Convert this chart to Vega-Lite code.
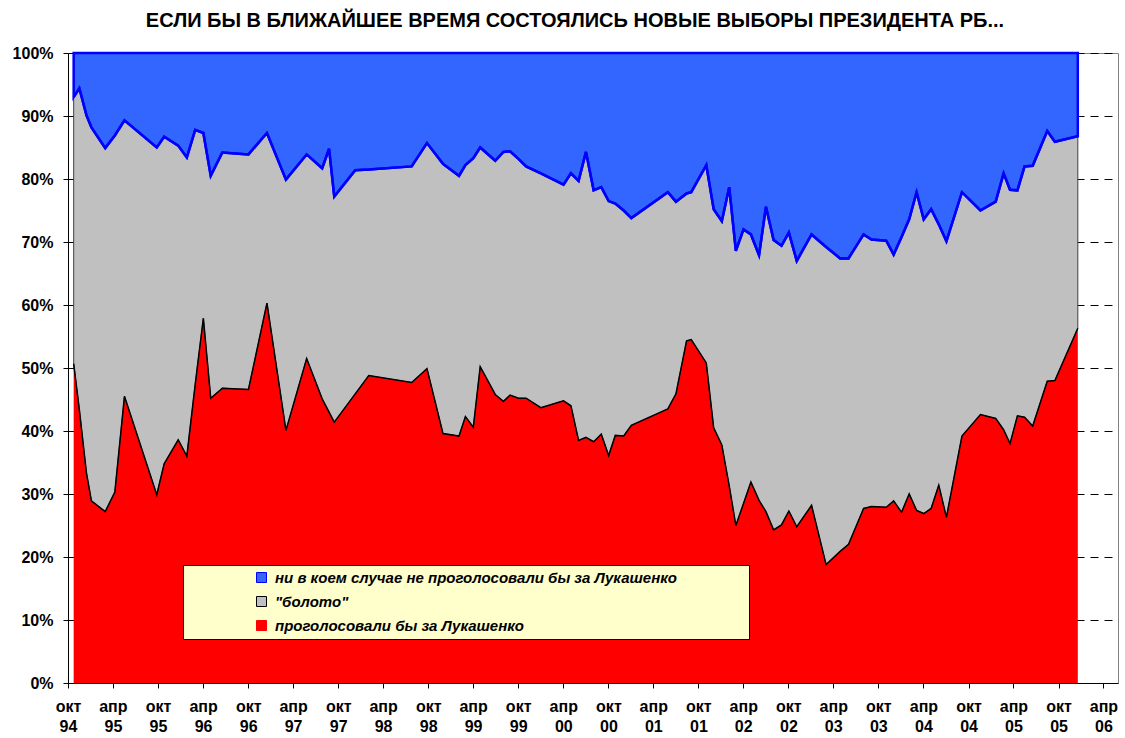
{
  "$schema": "https://vega.github.io/schema/vega-lite/v6.json",
  "width": 1050,
  "height": 630,
  "autosize": "none",
  "padding": {"left": 68, "top": 53, "right": 7, "bottom": 55},
  "background": "white",
  "title": {
    "text": "ЕСЛИ БЫ В БЛИЖАЙШЕЕ ВРЕМЯ СОСТОЯЛИСЬ НОВЫЕ ВЫБОРЫ ПРЕЗИДЕНТА РБ...",
    "font": "Liberation Sans",
    "fontSize": 20,
    "fontWeight": "bold",
    "color": "black",
    "anchor": "middle",
    "dx": -18,
    "offset": 14
  },
  "config": {
    "view": {"stroke": "#808080", "strokeWidth": 1},
    "font": "Liberation Sans"
  },
  "data": {
    "values": [
      {"date": "1994-10-24", "за": 50.7, "не определились": 42.3, "против": 7.0},
      {"date": "1994-11-16", "за": 43.4, "не определились": 51.0, "против": 5.6},
      {"date": "1994-12-15", "за": 33.3, "не определились": 56.8, "против": 9.9},
      {"date": "1995-01-04", "за": 28.9, "не определились": 59.3, "против": 11.8},
      {"date": "1995-03-01", "за": 27.2, "не определились": 57.7, "против": 15.1},
      {"date": "1995-04-09", "за": 30.3, "не определились": 56.6, "против": 13.1},
      {"date": "1995-05-18", "за": 45.5, "не определились": 43.8, "против": 10.7},
      {"date": "1995-09-26", "за": 29.9, "не определились": 55.1, "против": 15.0},
      {"date": "1995-10-26", "за": 34.8, "не определились": 51.9, "против": 13.3},
      {"date": "1995-12-22", "за": 38.6, "не определились": 46.7, "против": 14.7},
      {"date": "1996-01-26", "за": 36.0, "не определились": 47.4, "против": 16.6},
      {"date": "1996-02-29", "за": 47.4, "не определились": 40.4, "против": 12.2},
      {"date": "1996-04-02", "за": 57.9, "не определились": 29.4, "против": 12.7},
      {"date": "1996-05-02", "за": 45.2, "не определились": 35.3, "против": 19.5},
      {"date": "1996-06-18", "за": 46.8, "не определились": 37.4, "против": 15.8},
      {"date": "1996-10-02", "за": 46.6, "не определились": 37.3, "против": 16.1},
      {"date": "1996-12-16", "за": 60.3, "не определились": 27.0, "против": 12.7},
      {"date": "1997-03-03", "за": 40.1, "не определились": 39.8, "против": 20.1},
      {"date": "1997-05-26", "за": 51.5, "не определились": 32.4, "против": 16.1},
      {"date": "1997-07-28", "за": 45.1, "не определились": 36.6, "против": 18.3},
      {"date": "1997-08-25", "за": 43.0, "не определились": 41.8, "против": 15.2},
      {"date": "1997-09-15", "за": 41.4, "не определились": 35.8, "против": 22.8},
      {"date": "1997-12-09", "за": 45.9, "не определились": 35.5, "против": 18.6},
      {"date": "1998-02-02", "за": 48.8, "не определились": 32.7, "против": 18.5},
      {"date": "1998-07-26", "за": 47.7, "не определились": 34.3, "против": 18.0},
      {"date": "1998-09-26", "за": 49.9, "не определились": 35.8, "против": 14.3},
      {"date": "1998-11-30", "за": 39.6, "не определились": 42.8, "против": 17.6},
      {"date": "1999-02-03", "за": 39.2, "не определились": 41.3, "против": 19.5},
      {"date": "1999-03-01", "за": 42.3, "не определились": 39.9, "против": 17.8},
      {"date": "1999-04-02", "за": 40.6, "не определились": 42.7, "против": 16.7},
      {"date": "1999-04-30", "за": 50.2, "не определились": 34.8, "против": 15.0},
      {"date": "1999-06-30", "за": 45.8, "не определились": 37.1, "против": 17.1},
      {"date": "1999-08-02", "за": 44.7, "не определились": 39.6, "против": 15.7},
      {"date": "1999-08-29", "за": 45.7, "не определились": 38.7, "против": 15.6},
      {"date": "1999-10-02", "за": 45.2, "не определились": 38.0, "против": 16.8},
      {"date": "1999-11-02", "за": 45.2, "не определились": 36.8, "против": 18.0},
      {"date": "2000-01-01", "за": 43.7, "не определились": 37.2, "против": 19.1},
      {"date": "2000-04-02", "за": 44.8, "не определились": 34.3, "против": 20.9},
      {"date": "2000-05-02", "за": 44.0, "не определились": 36.9, "против": 19.1},
      {"date": "2000-06-02", "за": 38.5, "не определились": 41.2, "против": 20.3},
      {"date": "2000-07-02", "за": 39.0, "не определились": 45.3, "против": 15.7},
      {"date": "2000-08-02", "за": 38.3, "не определились": 39.9, "против": 21.8},
      {"date": "2000-09-02", "за": 39.5, "не определились": 39.2, "против": 21.3},
      {"date": "2000-10-02", "за": 36.1, "не определились": 40.4, "против": 23.5},
      {"date": "2000-10-29", "за": 39.3, "не определились": 36.8, "против": 23.9},
      {"date": "2000-12-02", "за": 39.2, "не определились": 35.8, "против": 25.0},
      {"date": "2001-01-02", "за": 40.9, "не определились": 32.9, "против": 26.2},
      {"date": "2001-05-30", "за": 43.5, "не определились": 34.4, "против": 22.1},
      {"date": "2001-07-02", "за": 45.9, "не определились": 30.5, "против": 23.6},
      {"date": "2001-08-14", "за": 54.3, "не определились": 23.4, "против": 22.3},
      {"date": "2001-09-02", "за": 54.5, "не определились": 23.4, "против": 22.1},
      {"date": "2001-11-02", "за": 50.8, "не определились": 31.4, "против": 17.8},
      {"date": "2001-12-02", "за": 40.5, "не определились": 34.7, "против": 24.8},
      {"date": "2002-01-04", "за": 37.8, "не определились": 35.5, "против": 26.7},
      {"date": "2002-02-03", "за": 31.3, "не определились": 47.4, "против": 21.3},
      {"date": "2002-03-02", "за": 25.0, "не определились": 43.6, "против": 31.4},
      {"date": "2002-04-02", "за": 28.5, "не определились": 43.5, "против": 28.0},
      {"date": "2002-05-02", "за": 31.9, "не определились": 39.3, "против": 28.8},
      {"date": "2002-06-04", "за": 29.0, "не определились": 38.9, "против": 32.1},
      {"date": "2002-07-02", "за": 27.2, "не определились": 48.4, "против": 24.4},
      {"date": "2002-08-02", "за": 24.3, "не определились": 46.0, "против": 29.7},
      {"date": "2002-09-03", "за": 25.1, "не определились": 44.3, "против": 30.6},
      {"date": "2002-10-03", "за": 27.3, "не определились": 44.2, "против": 28.5},
      {"date": "2002-11-04", "за": 24.8, "не определились": 42.2, "против": 33.0},
      {"date": "2003-01-03", "за": 28.2, "не определились": 43.0, "против": 28.8},
      {"date": "2003-03-03", "за": 18.8, "не определились": 50.4, "против": 30.8},
      {"date": "2003-04-29", "за": 20.9, "не определились": 46.5, "против": 32.6},
      {"date": "2003-06-02", "за": 22.0, "не определились": 45.4, "против": 32.6},
      {"date": "2003-08-02", "за": 27.7, "не определились": 43.5, "против": 28.8},
      {"date": "2003-09-03", "за": 28.0, "не определились": 42.4, "против": 29.6},
      {"date": "2003-11-02", "за": 27.9, "не определились": 42.3, "против": 29.8},
      {"date": "2003-12-02", "за": 28.9, "не определились": 39.1, "против": 32.0},
      {"date": "2004-01-03", "за": 27.1, "не определились": 43.7, "против": 29.2},
      {"date": "2004-02-03", "за": 30.0, "не определились": 43.6, "против": 26.4},
      {"date": "2004-03-04", "за": 27.4, "не определились": 50.5, "против": 22.1},
      {"date": "2004-04-02", "за": 26.9, "не определились": 46.7, "против": 26.4},
      {"date": "2004-05-02", "за": 27.7, "не определились": 47.5, "против": 24.8},
      {"date": "2004-06-02", "за": 31.4, "не определились": 41.4, "против": 27.2},
      {"date": "2004-07-03", "за": 26.3, "не определились": 43.8, "против": 29.9},
      {"date": "2004-09-04", "за": 39.2, "не определились": 38.7, "против": 22.1},
      {"date": "2004-11-18", "за": 42.6, "не определились": 32.4, "против": 25.0},
      {"date": "2005-01-19", "за": 42.0, "не определились": 34.4, "против": 23.6},
      {"date": "2005-02-20", "за": 40.2, "не определились": 40.7, "против": 19.1},
      {"date": "2005-03-18", "за": 38.0, "не определились": 40.3, "против": 21.7},
      {"date": "2005-04-17", "за": 42.4, "не определились": 35.8, "против": 21.8},
      {"date": "2005-05-16", "за": 42.2, "не определились": 39.8, "против": 18.0},
      {"date": "2005-06-18", "за": 40.8, "не определились": 41.3, "против": 17.9},
      {"date": "2005-08-16", "за": 47.9, "не определились": 39.7, "против": 12.4},
      {"date": "2005-09-16", "за": 48.0, "не определились": 37.9, "против": 14.1},
      {"date": "2005-12-18", "за": 56.3, "не определились": 30.5, "против": 13.2}
    ]
  },
  "transform": [
    {"fold": ["за", "не определились", "против"], "as": ["series", "pct"]}
  ],
  "encoding": {
    "x": {
      "field": "date",
      "type": "temporal",
      "title": null,
      "scale": {
        "type": "utc",
        "domain": [
          {"year": 1994, "month": 10, "date": 1, "utc": true},
          {"year": 2006, "month": 5, "date": 30, "utc": true}
        ]
      },
      "axis": {
        "values": [
          {"year": 1994, "month": 10, "date": 1, "utc": true},
          {"year": 1995, "month": 4, "date": 1, "utc": true},
          {"year": 1995, "month": 10, "date": 1, "utc": true},
          {"year": 1996, "month": 4, "date": 1, "utc": true},
          {"year": 1996, "month": 10, "date": 1, "utc": true},
          {"year": 1997, "month": 4, "date": 1, "utc": true},
          {"year": 1997, "month": 10, "date": 1, "utc": true},
          {"year": 1998, "month": 4, "date": 1, "utc": true},
          {"year": 1998, "month": 10, "date": 1, "utc": true},
          {"year": 1999, "month": 4, "date": 1, "utc": true},
          {"year": 1999, "month": 10, "date": 1, "utc": true},
          {"year": 2000, "month": 4, "date": 1, "utc": true},
          {"year": 2000, "month": 10, "date": 1, "utc": true},
          {"year": 2001, "month": 4, "date": 1, "utc": true},
          {"year": 2001, "month": 10, "date": 1, "utc": true},
          {"year": 2002, "month": 4, "date": 1, "utc": true},
          {"year": 2002, "month": 10, "date": 1, "utc": true},
          {"year": 2003, "month": 4, "date": 1, "utc": true},
          {"year": 2003, "month": 10, "date": 1, "utc": true},
          {"year": 2004, "month": 4, "date": 1, "utc": true},
          {"year": 2004, "month": 10, "date": 1, "utc": true},
          {"year": 2005, "month": 4, "date": 1, "utc": true},
          {"year": 2005, "month": 10, "date": 1, "utc": true},
          {"year": 2006, "month": 4, "date": 1, "utc": true}
        ],
        "labelExpr": "[utcmonth(datum.value) == 3 ? 'апр' : 'окт', utcFormat(datum.value, '%y')]",
        "labelFont": "Liberation Sans",
        "labelFontSize": 16,
        "labelFontWeight": "bold",
        "labelColor": "black",
        "labelLineHeight": 20,
        "labelPadding": 10,
        "labelAngle": 0,
        "labelOverlap": false,
        "labelFlush": false,
        "grid": false,
        "ticks": true,
        "tickSize": 5,
        "tickColor": "black",
        "domainColor": "black",
        "domainWidth": 1
      }
    }
  },
  "layer": [
    {
      "mark": {"type": "area", "interpolate": "linear"},
      "encoding": {
        "y": {
          "field": "pct",
          "type": "quantitative",
          "stack": "zero",
          "title": null,
          "scale": {"domain": [0, 100], "nice": false},
          "axis": {
            "values": [0, 10, 20, 30, 40, 50, 60, 70, 80, 90, 100],
            "labelExpr": "datum.value + '%'",
            "labelFont": "Liberation Sans",
            "labelFontSize": 16,
            "labelFontWeight": "bold",
            "labelColor": "black",
            "labelPadding": 10,
            "tickSize": 5,
            "tickColor": "black",
            "domainColor": "black",
            "grid": true,
            "gridColor": "black",
            "gridDash": [8, 6],
            "gridWidth": 1
          }
        },
        "color": {
          "field": "series",
          "type": "nominal",
          "scale": {
            "domain": ["против", "не определились", "за"],
            "range": ["#3366FF", "#C0C0C0", "#FF0000"]
          },
          "legend": {
            "orient": "none",
            "legendX": 115,
            "legendY": 512,
            "title": "\u00a0",
            "titleOrient": "right",
            "titlePadding": 67,
            "titleFontSize": 4,
            "direction": "vertical",
            "fillColor": "#FFFFCC",
            "strokeColor": "black",
            "padding": 5,
            "symbolType": "square",
            "symbolSize": 100,
            "symbolStrokeColor": "black",
            "symbolStrokeWidth": 1,
            "symbolOffset": 66,
            "labelOffset": 6,
            "rowPadding": 8,
            "labelFont": "Liberation Sans",
            "labelFontSize": 15,
            "labelFontWeight": "bold",
            "labelFontStyle": "italic",
            "labelColor": "black",
            "labelLimit": 600,
            "labelExpr": "datum.label == 'за' ? 'проголосовали бы за Лукашенко' : datum.label == 'против' ? 'ни в коем случае не проголосовали бы за Лукашенко' : '\"болото\"'",
            "encode": {
              "symbols": {
                "update": {
                  "stroke": {"signal": "datum.value == 'против' ? '#0000FF' : datum.value == 'за' ? '#FF0000' : '#000000'"}
                }
              }
            }
          }
        },
        "order": {"field": "series", "sort": "ascending"},
        "stroke": {
          "condition": [
            {"test": "datum.series === 'против'", "value": "#0000FF"},
            {"test": "datum.series === 'не определились'", "value": "#404040"}
          ],
          "value": "transparent"
        },
        "strokeWidth": {
          "condition": {"test": "datum.series === 'против'", "value": 2.5},
          "value": 1
        }
      }
    },
    {
      "transform": [{"filter": "datum.series !== 'против'"}],
      "mark": {"type": "line", "interpolate": "linear"},
      "encoding": {
        "y": {"field": "pct", "type": "quantitative", "stack": "zero"},
        "order": {"field": "series", "sort": "ascending"},
        "stroke": {
          "field": "series",
          "type": "nominal",
          "scale": {"domain": ["за", "не определились"], "range": ["#000000", "#0000FF"]},
          "legend": null
        },
        "strokeWidth": {
          "condition": {"test": "datum.series === 'за'", "value": 1.5},
          "value": 2.5
        }
      }
    }
  ]
}
